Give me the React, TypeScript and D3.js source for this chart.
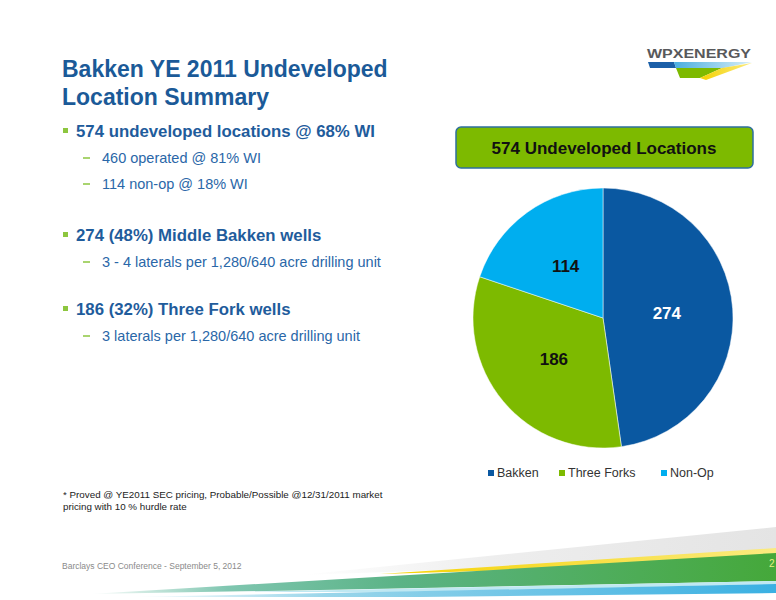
import React from "react";
import * as d3 from "d3";

const categories = ["Bakken", "Three Forks", "Non-Op"];
const values = [274, 186, 114];
const colors = ["#0A58A1", "#7DBA00", "#00AEEF"];
const chartTitle = "574 Undeveloped Locations";
const titleLines = ["Bakken YE 2011 Undeveloped", "Location Summary"];
const bullets = [
  { text: "574 undeveloped locations @ 68% WI", subs: ["460 operated @ 81% WI", "114 non-op @ 18% WI"] },
  { text: "274 (48%) Middle Bakken wells", subs: ["3 - 4 laterals per 1,280/640 acre drilling unit"] },
  { text: "186 (32%) Three Fork wells", subs: ["3 laterals per 1,280/640 acre drilling unit"] },
];
const footnote = [
  "* Proved @ YE2011 SEC pricing, Probable/Possible @12/31/2011 market",
  "pricing with 10 % hurdle rate",
];
const footer = "Barclays CEO Conference  - September 5, 2012";

const FONT = "'Liberation Sans', Arial, sans-serif";

export default function App() {
  const cx = 603, cy = 318, R = 130;
  const pie = d3.pie<number>().sort(null).value((d) => d)(values);
  const arc = d3.arc<d3.PieArcDatum<number>>().innerRadius(0).outerRadius(R);
  const labelArc = d3.arc<d3.PieArcDatum<number>>().innerRadius(64).outerRadius(64);

  // bullet layout baselines
  const bulletY = [137, 241, 315];
  const subY = [[163, 189], [267], [341]];
  const legendX = [488, 559, 661];

  return (
    <svg width={776} height={600} style={{ position: "absolute", left: 0, top: 0, background: "#fff" }} fontFamily={FONT}>
      <defs>
        <linearGradient id="gGreen" x1="0" x2="1" y1="0" y2="0">
          <stop offset="0" stopColor="#ffffff" />
          <stop offset="0.2" stopColor="#7fc6b0" />
          <stop offset="0.45" stopColor="#5bb386" />
          <stop offset="1" stopColor="#45a83a" />
        </linearGradient>
        <linearGradient id="gBlue" x1="0" x2="1" y1="0" y2="0">
          <stop offset="0" stopColor="#ffffff" />
          <stop offset="0.3" stopColor="#9ad6ea" />
          <stop offset="1" stopColor="#3ab0e2" />
        </linearGradient>
        <linearGradient id="gGray" x1="0" x2="1" y1="0" y2="0">
          <stop offset="0" stopColor="#ffffff" />
          <stop offset="0.4" stopColor="#eeeeee" />
          <stop offset="1" stopColor="#e4e4e4" />
        </linearGradient>
        <linearGradient id="gLogoBlue" x1="0" x2="1" y1="0" y2="0">
          <stop offset="0" stopColor="#4aaee0" />
          <stop offset="1" stopColor="#d8eef8" />
        </linearGradient>
        <linearGradient id="gYellow" x1="0" x2="1" y1="0" y2="0">
          <stop offset="0" stopColor="#f5d200" />
          <stop offset="1" stopColor="#fbeb80" />
        </linearGradient>
      </defs>

      {/* Title */}
      {titleLines.map((t, i) => (
        <text key={t} x={62} y={77 + i * 28} fontSize={23} fontWeight="bold" fill="#1B5A98">{t}</text>
      ))}

      {/* Bullets */}
      {bullets.map((b, i) => (
        <g key={b.text}>
          <rect x={63} y={bulletY[i] - 9} width={5} height={5} fill="#8DC63F" />
          <text x={76} y={bulletY[i]} fontSize={16.8} fontWeight="bold" fill="#1F5C9C">{b.text}</text>
          {b.subs.map((s, j) => (
            <g key={s}>
              <line x1={83} x2={90} y1={subY[i][j] - 5} y2={subY[i][j] - 5} stroke="#8DC63F" strokeWidth={1.5} />
              <text x={102} y={subY[i][j]} fontSize={14.5} fill="#2A67A8">{s}</text>
            </g>
          ))}
        </g>
      ))}

      {/* Footnote */}
      {footnote.map((t, i) => (
        <text key={t} x={63} y={498 + i * 12} fontSize={9.8} fill="#222">{t}</text>
      ))}

      {/* Logo */}
      <text x={647} y={58} fontSize={13} fontWeight="bold" fill="#58595B" textLength={104} lengthAdjust="spacingAndGlyphs">WPXENERGY</text>
      <polygon points="648,62 674,62 676,68 650,68" fill="#1B5FA8" />
      <polygon points="674,62 752,62 724,68 676,68" fill="url(#gLogoBlue)" />
      <polygon points="676,68 722,68 700,78 680,78" fill="#7DBA00" />
      <polygon points="722,68 752,63 706,80 700,78" fill="url(#gYellow)" />

      {/* Chart title box */}
      <rect x={456} y={127} width={297} height={41} rx={5} fill="#7DBA00" stroke="#2E6F9E" strokeWidth={1.5} />
      <text x={604} y={154} textAnchor="middle" fontSize={17} fontWeight="bold" fill="#111">{chartTitle}</text>

      {/* Pie */}
      <g transform={`translate(${cx},${cy})`}>
        {pie.map((p, i) => (
          <path key={categories[i]} d={arc(p) || ""} fill={colors[i]} stroke="#fff" strokeWidth={0.5} />
        ))}
        {pie.map((p, i) => {
          const [lx, ly] = labelArc.centroid(p);
          return (
            <text key={"l" + i} x={lx} y={ly + 6} textAnchor="middle" fontSize={17} fontWeight="bold" fill={i === 0 ? "#fff" : "#111"}>
              {values[i]}
            </text>
          );
        })}
      </g>

      {/* Legend */}
      {categories.map((c, i) => (
        <g key={"lg" + c}>
          <rect x={legendX[i]} y={470} width={6} height={6} fill={colors[i]} />
          <text x={legendX[i] + 9} y={477} fontSize={12.5} fill="#333">{c}</text>
        </g>
      ))}

      {/* Bottom swoosh */}
      <polygon points="300,575 776,527 776,553 560,566" fill="url(#gGray)" />
      <polygon points="380,574 776,548 776,556 520,570" fill="url(#gYellow)" />
      <polygon points="90,594 776,553 776,581 320,590" fill="url(#gGreen)" />
      <polygon points="240,592 776,581 776,584 400,592" fill="#bfe8f2" />
      <polygon points="130,597 776,584 776,593 420,597" fill="url(#gBlue)" />

      {/* Footer */}
      <text x={62} y={569} fontSize={8.5} fill="#8a8a8a">{footer}</text>
      <text x={769} y={567} fontSize={10} fill="#e8f080">2</text>
    </svg>
  );
}
